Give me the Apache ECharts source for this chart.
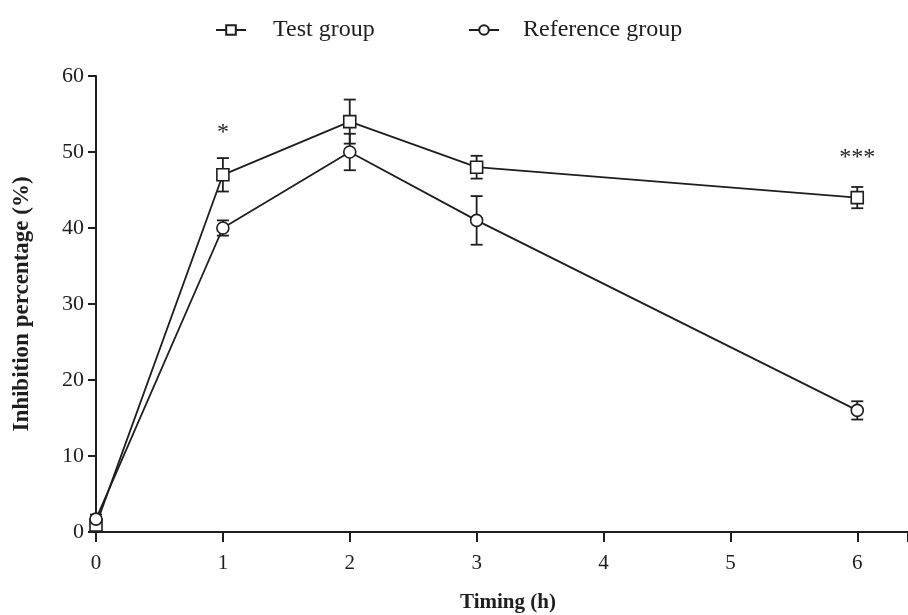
<!DOCTYPE html>
<html><head><meta charset="utf-8">
<script src="https://cdn.jsdelivr.net/npm/echarts@6/dist/echarts.min.js"></script>
<style>html,body{margin:0;padding:0;background:#fff}#c{width:908px;height:615px}</style>
</head><body><div id="c"></div>
<script>
const timings = [0, 1, 2, 3, 6];
const testMean = [0.9, 47, 54, 48, 44];
const testErr = [0.8, 2.2, 2.9, 1.5, 1.4];
const refMean = [1.7, 40, 50, 41, 16];
const refErr = [0.6, 1.0, 2.4, 3.2, 1.2];
const starX = [1, 6];
const starY = [52.5, 49.3];
const starText = ['*', '***'];
const xTicks = ['0', '1', '2', '3', '4', '5', '6'];

const C = '#1e1e1e';
const FONT = 'Liberation Serif';

function errData(m, e) { return timings.map((t, i) => [t, m[i] - e[i], m[i] + e[i]]); }
function errSeries(m, e) {
  return {
    type: 'custom', data: errData(m, e), z: 1, silent: true,
    renderItem: function (params, api) {
      const x = api.value(0);
      const lo = api.coord([x, api.value(1)]);
      const hi = api.coord([x, api.value(2)]);
      const w = 6;
      const st = { stroke: C, lineWidth: 1.8 };
      return { type: 'group', children: [
        { type: 'line', shape: { x1: lo[0], y1: lo[1], x2: hi[0], y2: hi[1] }, style: st },
        { type: 'line', shape: { x1: lo[0] - w, y1: lo[1], x2: lo[0] + w, y2: lo[1] }, style: st },
        { type: 'line', shape: { x1: hi[0] - w, y1: hi[1], x2: hi[0] + w, y2: hi[1] }, style: st }
      ]};
    }
  };
}

const chart = echarts.init(document.getElementById('c'));
chart.setOption({
  animation: false,
  backgroundColor: '#fff',
  grid: { left: 96, right: 0, top: 76, bottom: 83, containLabel: false, outerBoundsMode: 'none' },
  legend: [
    { data: ['Test group'], left: 210, top: 13, itemWidth: 30, itemHeight: 12, itemGap: 0,
      textStyle: { fontFamily: FONT, fontSize: 24, color: C, padding: [0, 0, 0, 22] } },
    { data: ['Reference group'], left: 463, top: 13, itemWidth: 30, itemHeight: 12, itemGap: 0,
      textStyle: { fontFamily: FONT, fontSize: 24, color: C, padding: [0, 0, 0, 19] } }
  ],
  xAxis: {
    type: 'value', min: 0, max: 6.4, interval: 1,
    name: 'Timing (h)', nameLocation: 'middle', nameGap: 60,
    nameTextStyle: { fontFamily: FONT, fontSize: 21, fontWeight: 'bold', color: C, padding: [0, 0, 0, 12] },
    axisLine: { onZero: false, lineStyle: { color: C, width: 2 } },
    axisTick: { length: 10, lineStyle: { color: C, width: 2 } },
    axisLabel: { fontFamily: FONT, fontSize: 21, color: C, margin: 21,
      formatter: v => (v <= 6 && Number.isInteger(v)) ? xTicks[v] : '' },
    splitLine: { show: false }
  },
  yAxis: {
    type: 'value', min: 0, max: 60, interval: 10,
    name: 'Inhibition percentage (%)', nameLocation: 'middle', nameGap: 62,
    nameTextStyle: { fontFamily: FONT, fontSize: 23, fontWeight: 'bold', color: C },
    axisLine: { show: true, lineStyle: { color: C, width: 2 } },
    axisTick: { show: true, length: 8, lineStyle: { color: C, width: 2 } },
    axisLabel: { fontFamily: FONT, fontSize: 22, color: C, margin: 12 },
    splitLine: { show: false }
  },
  series: [
    errSeries(testMean, testErr),
    errSeries(refMean, refErr),
    {
      name: 'Test group', type: 'line', data: timings.map((t, i) => [t, testMean[i]]),
      symbol: 'rect', symbolSize: 12, z: 3,
      lineStyle: { color: C, width: 1.8 },
      itemStyle: { color: '#fff', borderColor: C, borderWidth: 1.6 }
    },
    {
      name: 'Reference group', type: 'line', data: timings.map((t, i) => [t, refMean[i]]),
      symbol: 'circle', symbolSize: 12, z: 3,
      lineStyle: { color: C, width: 1.8 },
      itemStyle: { color: '#fff', borderColor: C, borderWidth: 1.6 }
    },
    {
      type: 'custom', silent: true, z: 4,
      data: starX.map((x, i) => [x, starY[i], i]),
      renderItem: function (params, api) {
        const p = api.coord([api.value(0), api.value(1)]);
        return { type: 'text', x: p[0], y: p[1],
          style: { text: starText[api.value(2)], fill: C, font: '24px ' + FONT, align: 'center', verticalAlign: 'middle' } };
      }
    }
  ]
});
</script></body></html>
